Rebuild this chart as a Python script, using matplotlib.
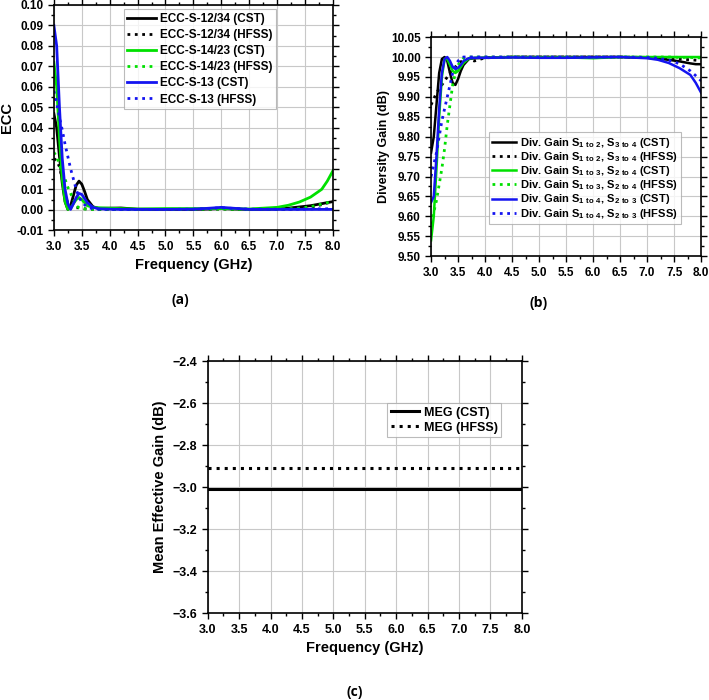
import matplotlib
matplotlib.use('Agg')
from matplotlib import pyplot as plt
from matplotlib.ticker import MultipleLocator, FuncFormatter

plt.rcParams['font.family'] = ['Liberation Sans', 'DejaVu Sans']
plt.rcParams['font.weight'] = 'bold'
plt.rcParams['mathtext.fontset'] = 'custom'
plt.rcParams['mathtext.bf'] = 'Liberation Sans:bold'
plt.rcParams['mathtext.rm'] = 'Liberation Sans:bold'

# ---- (a) ECC ----
f_a = [3.0, 3.05, 3.1, 3.15, 3.2, 3.25, 3.3, 3.35, 3.4, 3.45, 3.5, 3.55, 3.6, 3.7, 3.8, 4.0,
       4.2, 4.5, 5.0, 5.5, 5.8, 6.0, 6.2, 6.5, 7.0, 7.2, 7.4, 7.6, 7.8, 7.9, 8.0]
ecc_12_cst = [0.047, 0.040, 0.026, 0.013, 0.004, 0.0002, 0.002, 0.007, 0.012, 0.014, 0.0125, 0.009,
              0.005, 0.0015, 0.0007, 0.0008, 0.0009, 0.0003, 0.0002, 0.0002, 0.0004, 0.0006,
              0.0004, 0.0002, 0.0004, 0.0008, 0.0014, 0.002, 0.003, 0.0035, 0.004]
ecc_12_hfss = [0.025, 0.024, 0.021, 0.015, 0.008, 0.003, 0.001, 0.0008, 0.001, 0.001, 0.0008, 0.0005,
               0.0004, 0.0003, 0.0002, 0.0002, 0.0002, 0.0002, 0.0002, 0.0002, 0.0003, 0.0004,
               0.0003, 0.0002, 0.0002, 0.0003, 0.0005, 0.0012, 0.0025, 0.0033, 0.004]
ecc_14_cst = [0.072, 0.060, 0.035, 0.015, 0.004, 0.0002, 0.0008, 0.003, 0.005, 0.006, 0.005, 0.0035,
              0.002, 0.0012, 0.001, 0.0008, 0.0006, 0.0004, 0.0006, 0.0006, 0.0006, 0.0006,
              0.0005, 0.0004, 0.0012, 0.0022, 0.0038, 0.0062, 0.010, 0.014, 0.019]
ecc_14_hfss = [0.028, 0.026, 0.022, 0.018, 0.015, 0.011, 0.008, 0.005, 0.002, 0.001, 0.0006, 0.0004,
               0.0003, 0.0002, 0.0002, 0.0002, 0.0002, 0.0002, 0.0002, 0.0002, 0.0003, 0.0004,
               0.0003, 0.0002, 0.0003, 0.0005, 0.0008, 0.0015, 0.0028, 0.0035, 0.004]
ecc_13_cst = [0.090, 0.080, 0.050, 0.025, 0.010, 0.003, 0.0002, 0.003, 0.006, 0.008, 0.0075, 0.0055,
              0.0035, 0.0012, 0.0005, 0.0003, 0.0002, 0.0002, 0.0002, 0.0003, 0.0008, 0.0012,
              0.0008, 0.0002, 0.0002, 0.0002, 0.0002, 0.0002, 0.0002, 0.0002, 0.0002]
ecc_13_hfss = [0.058, 0.052, 0.045, 0.039, 0.032, 0.026, 0.020, 0.015, 0.010, 0.006, 0.004, 0.0025,
               0.0012, 0.0005, 0.0003, 0.0002, 0.0002, 0.0002, 0.0002, 0.0003, 0.0007, 0.0010,
               0.0007, 0.0003, 0.0003, 0.0003, 0.0003, 0.0004, 0.0005, 0.0005, 0.0005]

# ---- (b) Diversity gain ----
f_b = [3.0, 3.05, 3.1, 3.15, 3.2, 3.25, 3.3, 3.35, 3.4, 3.45, 3.5, 3.55, 3.6, 3.7, 3.8, 4.0,
       4.5, 5.0, 5.5, 6.0, 6.5, 7.0, 7.2, 7.4, 7.6, 7.8, 7.9, 8.0]
dg_12_cst = [9.76, 9.80, 9.88, 9.96, 9.995, 10.0, 9.99, 9.96, 9.935, 9.93, 9.945, 9.965, 9.98,
             9.995, 9.997, 9.998, 10.0, 10.0, 10.0, 10.0, 10.0, 9.998, 9.996, 9.993, 9.989,
             9.984, 9.982, 9.982]
dg_12_hfss = [9.88, 9.895, 9.91, 9.92, 9.93, 9.94, 9.95, 9.96, 9.97, 9.975, 9.982, 9.988, 9.992,
              9.995, 9.99, 9.998, 10.0, 10.0, 10.0, 10.0, 10.0, 9.999, 9.998, 9.997, 9.995,
              9.993, 9.992, 9.991]
dg_14_cst = [9.54, 9.60, 9.72, 9.85, 9.95, 9.995, 9.995, 9.98, 9.965, 9.96, 9.965, 9.975, 9.985,
             9.996, 9.998, 9.998, 10.0, 9.999, 9.999, 9.997, 10.0, 10.0, 10.0, 10.0, 10.0,
             10.0, 10.0, 10.0]
dg_14_hfss = [9.58, 9.61, 9.64, 9.68, 9.72, 9.77, 9.83, 9.88, 9.93, 9.96, 9.98, 9.99, 9.997,
              10.0, 10.0, 10.0, 10.0, 10.0, 10.0, 10.0, 10.0, 10.0, 10.0, 10.0, 9.999,
              9.999, 9.998, 9.998]
dg_13_cst = [9.635, 9.65, 9.75, 9.87, 9.96, 9.995, 10.0, 9.99, 9.975, 9.97, 9.973, 9.98, 9.99,
             9.997, 9.998, 9.998, 9.999, 9.998, 9.998, 9.999, 10.0, 9.997, 9.993, 9.985, 9.972,
             9.955, 9.935, 9.91]
dg_13_hfss = [9.70, 9.73, 9.76, 9.80, 9.84, 9.87, 9.90, 9.93, 9.96, 9.98, 9.99, 9.997, 10.0,
              10.0, 10.0, 10.0, 10.0, 10.0, 10.0, 10.0, 10.0, 9.999, 9.997, 9.992, 9.983,
              9.965, 9.953, 9.94]

# ---- (c) MEG ----
f_c = [3.0, 8.0]
meg_cst = [-3.01, -3.01]
meg_hfss = [-2.91, -2.91]

GREEN = '#00e000'
BLUE = '#1414f0'


def style_axes(ax, xmajor, ymajor, fs):
    ax.set_xlim(3.0, 8.0)
    ax.xaxis.set_major_locator(MultipleLocator(xmajor))
    ax.xaxis.set_minor_locator(MultipleLocator(xmajor / 2))
    ax.yaxis.set_major_locator(MultipleLocator(ymajor))
    ax.yaxis.set_minor_locator(MultipleLocator(ymajor / 2))
    ax.grid(True, which='major', color='#c8c8c8', linewidth=0.8)
    ax.tick_params(which='both', direction='out', top=True, right=True, labelsize=fs, width=1)
    ax.tick_params(which='major', length=4)
    ax.tick_params(which='minor', length=2.5)
    for lab in ax.get_xticklabels() + ax.get_yticklabels():
        lab.set_fontweight('bold')
    for sp in ax.spines.values():
        sp.set_linewidth(1.2)
    ax.set_axisbelow(True)


def add_legend(ax, anchor, fs, hl, ls):
    leg = ax.legend(loc='upper left', bbox_to_anchor=anchor, fontsize=fs, frameon=True,
                    fancybox=False, edgecolor='#aaaaaa', handlelength=hl, borderpad=0.3,
                    labelspacing=ls, handletextpad=0.35, borderaxespad=0)
    leg.get_frame().set_linewidth(0.8)


fig = plt.figure(figsize=(7.09, 7.0), dpi=100)

# (a)
ax1 = fig.add_axes([0.076, 0.671, 0.3935, 0.322])
ax1.plot(f_a, ecc_12_cst, color='black', lw=2, label='ECC-S-12/34 (CST)')
ax1.plot(f_a, ecc_12_hfss, color='black', lw=2, ls=':', label='ECC-S-12/34 (HFSS)')
ax1.plot(f_a, ecc_14_cst, color=GREEN, lw=2, label='ECC-S-14/23 (CST)')
ax1.plot(f_a, ecc_14_hfss, color=GREEN, lw=2, ls=':', label='ECC-S-14/23 (HFSS)')
ax1.plot(f_a, ecc_13_cst, color=BLUE, lw=2, label='ECC-S-13 (CST)')
ax1.plot(f_a, ecc_13_hfss, color=BLUE, lw=2, ls=':', label='ECC-S-13 (HFSS)')
ax1.set_ylim(-0.01, 0.10)
style_axes(ax1, 0.5, 0.01, 8.5)
ax1.yaxis.set_major_formatter(FuncFormatter(lambda v, p: '%.2f' % v))
ax1.set_xlabel('Frequency (GHz)', fontsize=10.5, fontweight='bold')
ax1.set_ylabel('ECC', fontsize=10.5, fontweight='bold', labelpad=2)
add_legend(ax1, (0.25, 0.98), 8.5, 2.4, 0.35)

# (b)
ax2 = fig.add_axes([0.608, 0.634, 0.381, 0.313])
ax2.plot(f_b, dg_12_cst, color='black', lw=1.8,
         label=r'Div. Gain S$_{\mathbf{1\ to\ 2}}$, S$_{\mathbf{3\ to\ 4}}$ (CST)')
ax2.plot(f_b, dg_12_hfss, color='black', lw=2, ls=':',
         label=r'Div. Gain S$_{\mathbf{1\ to\ 2}}$, S$_{\mathbf{3\ to\ 4}}$ (HFSS)')
ax2.plot(f_b, dg_14_cst, color=GREEN, lw=1.8,
         label=r'Div. Gain S$_{\mathbf{1\ to\ 3}}$, S$_{\mathbf{2\ to\ 4}}$ (CST)')
ax2.plot(f_b, dg_14_hfss, color=GREEN, lw=2, ls=':',
         label=r'Div. Gain S$_{\mathbf{1\ to\ 3}}$, S$_{\mathbf{2\ to\ 4}}$ (HFSS)')
ax2.plot(f_b, dg_13_cst, color=BLUE, lw=1.8,
         label=r'Div. Gain S$_{\mathbf{1\ to\ 4}}$, S$_{\mathbf{2\ to\ 3}}$ (CST)')
ax2.plot(f_b, dg_13_hfss, color=BLUE, lw=2, ls=':',
         label=r'Div. Gain S$_{\mathbf{1\ to\ 4}}$, S$_{\mathbf{2\ to\ 3}}$ (HFSS)')
ax2.set_ylim(9.50, 10.05)
style_axes(ax2, 0.5, 0.05, 8.5)
ax2.yaxis.set_major_formatter(FuncFormatter(lambda v, p: '%.2f' % v))
ax2.set_ylabel('Diversity Gain (dB)', fontsize=9, fontweight='bold', labelpad=1)
add_legend(ax2, (0.215, 0.566), 8, 2.1, 0.02)

# (c)
ax3 = fig.add_axes([0.293, 0.124, 0.443, 0.36])
ax3.plot(f_c, meg_cst, color='black', lw=2.2, label='MEG (CST)')
ax3.plot(f_c, meg_hfss, color='black', lw=2.2, ls=':', label='MEG (HFSS)')
ax3.set_ylim(-3.6, -2.4)
style_axes(ax3, 0.5, 0.2, 9)
ax3.yaxis.set_major_formatter(FuncFormatter(lambda v, p: '\u2212%.1f' % abs(v)))
ax3.set_xlabel('Frequency (GHz)', fontsize=10.5, fontweight='bold')
ax3.set_ylabel('Mean Effective Gain (dB)', fontsize=10.5, fontweight='bold')
add_legend(ax3, (0.57, 0.835), 9, 2.3, 0.25)

for txt, x, y in [('(a)', 180, 300), ('(b)', 539, 303), ('(c)', 355, 692)]:
    fig.text(x / 709, 1 - y / 700, txt, ha='center', va='center', fontsize=10,
             fontweight='bold', family=['Open Sans', 'DejaVu Sans'])

fig.savefig('out.png', dpi=100)
